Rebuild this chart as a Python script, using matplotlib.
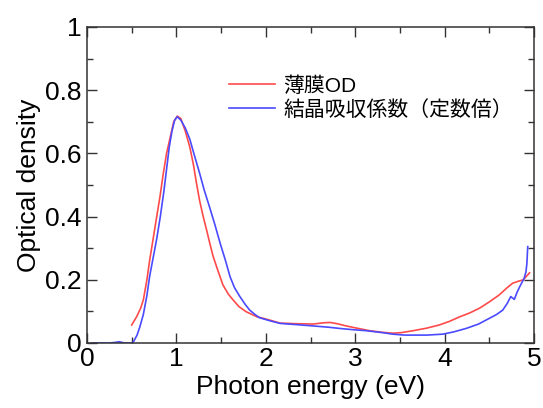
import numpy as np
import matplotlib
matplotlib.use("Agg")
import matplotlib.pyplot as plt
from matplotlib.ticker import MultipleLocator

plt.rcParams['font.family'] = ['Liberation Sans', 'Noto Sans CJK JP', 'DejaVu Sans']

# thin film optical density (red)
film_e = [0.50, 0.555, 0.60, 0.63, 0.67, 0.70, 0.74, 0.78, 0.82, 0.85, 0.89, 0.93,
          0.97, 1.01, 1.05, 1.10, 1.15, 1.19, 1.225, 1.26, 1.30, 1.34, 1.374, 1.41,
          1.45, 1.52, 1.58, 1.635, 1.70, 1.78, 1.90, 2.00, 2.16, 2.35, 2.53, 2.65,
          2.72, 2.80, 2.90, 3.00, 3.16, 3.30, 3.42, 3.52, 3.65, 3.80, 3.94, 4.05,
          4.17, 4.28, 4.39, 4.50, 4.61, 4.70, 4.76, 4.82, 4.88, 4.95]
film_od = [0.057, 0.083, 0.11, 0.136, 0.20, 0.26, 0.33, 0.40, 0.47, 0.53, 0.60, 0.65,
           0.70, 0.718, 0.71, 0.67, 0.62, 0.565, 0.505, 0.45, 0.40, 0.355, 0.315, 0.275,
           0.241, 0.184, 0.155, 0.136, 0.115, 0.099, 0.083, 0.076, 0.063, 0.061, 0.060, 0.064,
           0.065, 0.061, 0.054, 0.048, 0.039, 0.034, 0.031, 0.033, 0.039, 0.047, 0.057, 0.068,
           0.083, 0.095, 0.11, 0.13, 0.152, 0.175, 0.189, 0.195, 0.20, 0.222]

# crystal absorption coefficient, scaled (blue)
cryst_e = [0.05, 0.25, 0.32, 0.36, 0.42, 0.50, 0.52, 0.56, 0.59, 0.63, 0.67, 0.70,
           0.74, 0.78, 0.82, 0.86, 0.89, 0.92, 0.95, 0.98, 1.01, 1.05, 1.10, 1.15,
           1.20, 1.26, 1.31, 1.37, 1.43, 1.49, 1.55, 1.60, 1.65, 1.71, 1.77, 1.82,
           1.88, 1.93, 2.05, 2.16, 2.35, 2.53, 2.70, 2.83, 2.98, 3.12, 3.30, 3.42,
           3.55, 3.65, 3.80, 3.98, 4.10, 4.24, 4.38, 4.50, 4.58, 4.65, 4.70, 4.74,
           4.78, 4.81, 4.84, 4.89, 4.91, 4.92, 4.93]
cryst_od = [0.0, 0.0, 0.002, 0.004, 0.0, 0.0, 0.004, 0.025, 0.05, 0.09, 0.15, 0.21,
            0.27, 0.33, 0.40, 0.48, 0.55, 0.62, 0.67, 0.705, 0.716, 0.705, 0.68, 0.645,
            0.595, 0.537, 0.485, 0.431, 0.375, 0.315, 0.26, 0.21, 0.175, 0.147, 0.122, 0.104,
            0.09, 0.08, 0.07, 0.062, 0.058, 0.054, 0.05, 0.046, 0.042, 0.039, 0.033, 0.028,
            0.025, 0.025, 0.025, 0.028, 0.035, 0.046, 0.06, 0.078, 0.09, 0.104, 0.125, 0.147,
            0.138, 0.16, 0.178, 0.205, 0.225, 0.25, 0.305]

fig = plt.figure(figsize=(5.43, 4.08), dpi=100)
ax = fig.add_axes([87/543, 65/408, 447/543, 316/408])

ax.plot(film_e, film_od, color='#ff4a4a', lw=1.2, label='薄膜OD')
ax.plot(cryst_e, cryst_od, color='#4a4aff', lw=1.2, label='結晶吸収係数（定数倍）')

ax.set_xlim(0, 5)
ax.set_ylim(0, 1)
ax.xaxis.set_major_locator(MultipleLocator(1))
ax.xaxis.set_minor_locator(MultipleLocator(0.5))
ax.yaxis.set_minor_locator(MultipleLocator(0.1))
ax.set_yticks([0, 0.2, 0.4, 0.6, 0.8, 1.0])
ax.set_yticklabels(['0', '0.2', '0.4', '0.6', '0.8', '1'])
ax.tick_params(which='both', direction='in', top=True, right=True, color='#333333', width=1)
ax.tick_params(which='major', length=7)
ax.tick_params(which='minor', length=4)
ax.tick_params(axis='y', labelsize=19, pad=4)
ax.tick_params(axis='x', labelsize=19, pad=3)
for s in ax.spines.values():
    s.set_linewidth(1.1)
    s.set_color('#333333')

ax.set_xlabel('Photon energy (eV)', fontsize=19, labelpad=3)
ax.set_ylabel('Optical density', fontsize=19, labelpad=3)

ax.legend(loc='upper left', bbox_to_anchor=(229/543, 1 - 76/408),
          bbox_transform=fig.transFigure, frameon=False, fontsize=15,
          borderpad=0, borderaxespad=0, handlelength=2.2, handletextpad=0.4,
          labelspacing=0.2)

fig.savefig('out.png', dpi=100)
